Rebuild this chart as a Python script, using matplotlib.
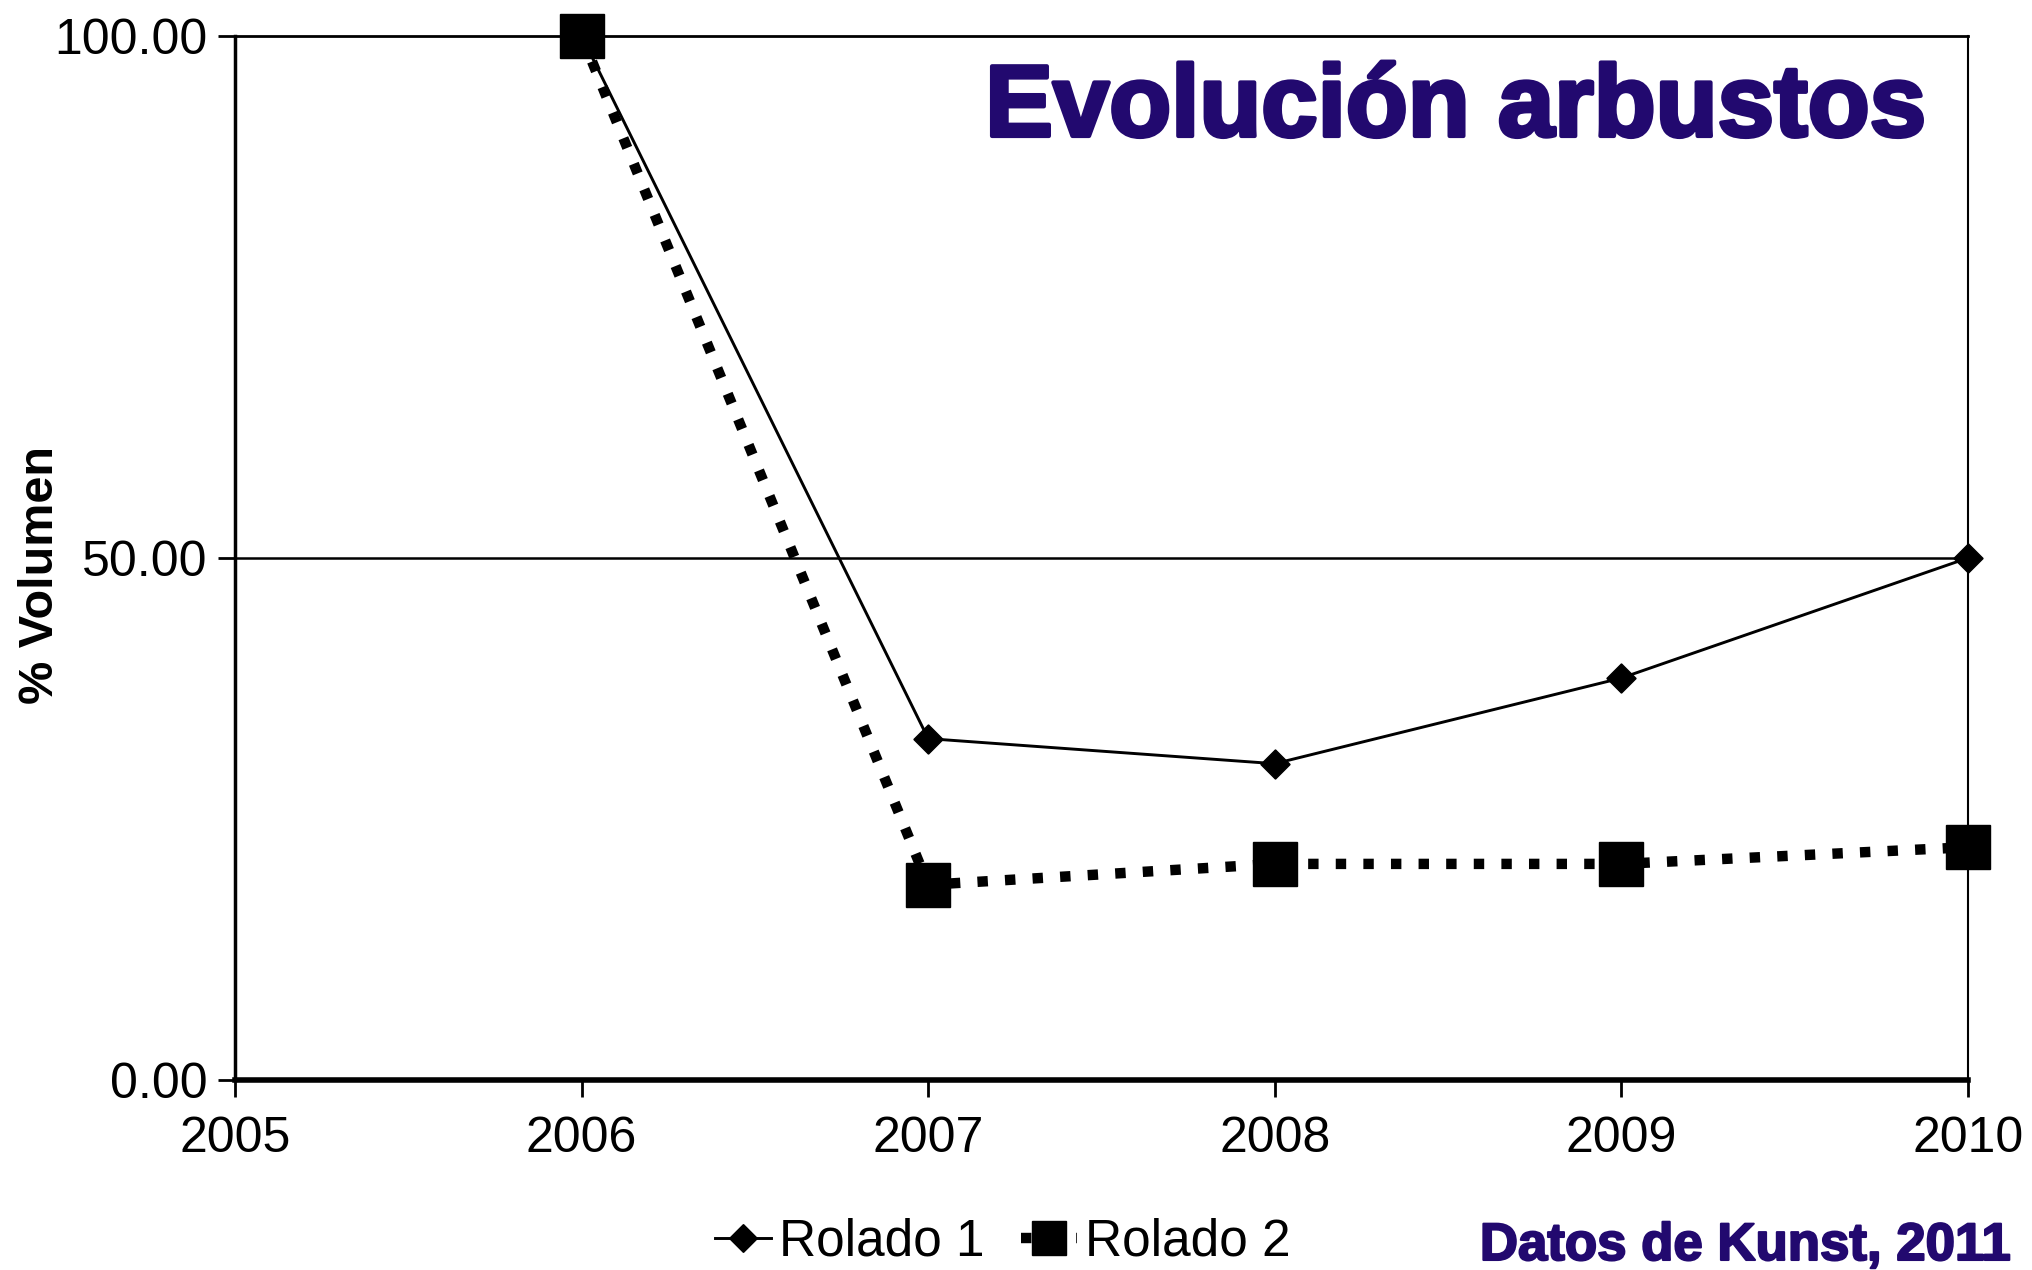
import matplotlib
matplotlib.use("Agg")
import matplotlib.pyplot as plt
import matplotlib.patheffects as pe
from matplotlib.ticker import FormatStrFormatter

plt.rcParams['font.family'] = ['Liberation Sans', 'DejaVu Sans']

# Series data (% of initial shrub volume)
years = [2006, 2007, 2008, 2009, 2010]
rolado_1 = [100.0, 32.7, 30.3, 38.5, 50.0]
rolado_2 = [100.0, 18.7, 20.7, 20.7, 22.3]

x_ticks = [2005, 2006, 2007, 2008, 2009, 2010]
y_ticks = [0, 50, 100]

title_text = "Evolución arbustos"
source_text = "Datos de Kunst, 2011"
y_label = "% Volumen"
navy = "#22096f"

fig = plt.figure(figsize=(20.32, 12.7), dpi=100)
ax = fig.add_axes([0.1157, 0.1496, 0.9684 - 0.1157, 0.97165 - 0.1496])

# Horizontal reference line at 50 %
ax.axhline(50, color="black", lw=1.8, zorder=1)

ax.plot(years, rolado_1, color="black", lw=2.1, marker=(4, 0, 0),
        markersize=21, label="Rolado 1", zorder=3, clip_on=False)
ax.plot(years, rolado_2, color="black", lw=7.5, linestyle=":",
        dash_capstyle="butt", marker="s", markersize=32,
        label="Rolado 2", zorder=2, clip_on=False)

ax.set_xlim(2005, 2010)
ax.set_ylim(0, 100)
ax.set_xticks(x_ticks)
ax.set_yticks(y_ticks)
ax.yaxis.set_major_formatter(FormatStrFormatter("%.2f"))
ax.tick_params(axis="both", direction="out", length=12, width=2,
               labelsize=36, color="black")
ax.tick_params(axis="x", pad=14)
ax.tick_params(axis="y", pad=8)

ax.spines["left"].set_linewidth(2.5)
ax.spines["bottom"].set_linewidth(4)
ax.spines["top"].set_linewidth(2)
ax.spines["right"].set_linewidth(1.5)
for s in ax.spines.values():
    s.set_zorder(1.5)

# Axis label
fig.text(41 / 2032, 1 - 575 / 1270, y_label, rotation=90, ha="center",
         va="center", fontsize=35, fontweight="bold")

# Title inside the plot area, thickened with a same-colour stroke
heavy_title = [pe.withStroke(linewidth=3, foreground=navy)]
fig.text(1926 / 2032, 1 - 136 / 1270, title_text, ha="right",
         va="baseline", fontsize=73, fontweight="heavy", color=navy,
         path_effects=heavy_title)

# Source note
heavy_note = [pe.withStroke(linewidth=1.5, foreground=navy)]
fig.text(2010 / 2032, 1 - 1260 / 1270, source_text, ha="right",
         va="baseline", fontsize=38, fontweight="heavy", color=navy,
         path_effects=heavy_note)

leg = fig.legend(loc="center", bbox_to_anchor=(0.4934, 0.022), ncol=2,
                 frameon=False, fontsize=37, handlelength=1.1,
                 handletextpad=0.15, columnspacing=0.7, borderpad=0)
handles = leg.legend_handles
handles[0].set_markersize(20)
handles[1].set_markersize(24)

fig.savefig("out.png", dpi=100)
